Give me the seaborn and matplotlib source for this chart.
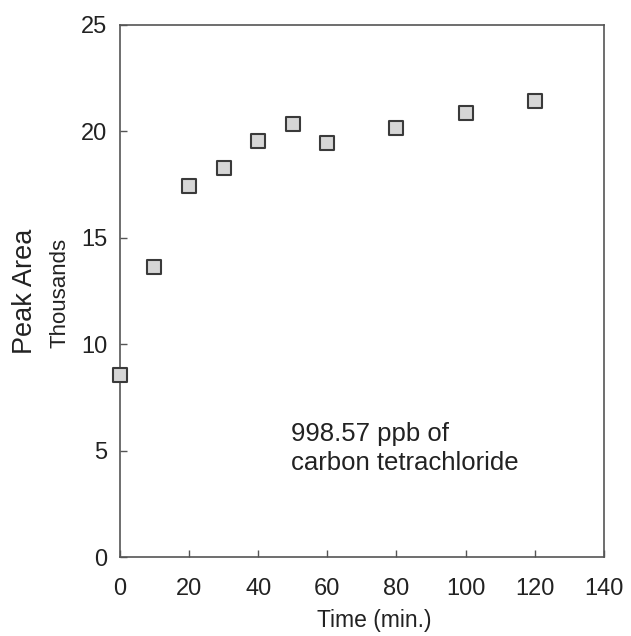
import matplotlib
matplotlib.use("Agg")
import matplotlib.pyplot as plt
import seaborn as sns
import pandas as pd

# Sampling time (min) and measured peak area (thousands)
time_min = [0, 10, 20, 30, 40, 50, 60, 80, 100, 120]
peak_area_k = [8.55, 13.65, 17.45, 18.27, 19.57, 20.33, 19.45, 20.14, 20.86, 21.41]

x_ticks = [0, 20, 40, 60, 80, 100, 120, 140]
y_ticks = [0, 5, 10, 15, 20, 25]

df = pd.DataFrame({"time": time_min, "area": peak_area_k})

sns.set_theme(style="white")
plt.rcParams["font.family"] = ["Liberation Sans", "DejaVu Sans"]
text_color = "#222222"
spine_color = "#555555"

fig = plt.figure(figsize=(6.31, 6.36), dpi=100)
ax = fig.add_axes([0.190, 0.1242, 0.767, 0.8365])

sns.scatterplot(data=df, x="time", y="area", marker="s", s=110,
                color="#d6d6d6", edgecolor="#3a3a3a", linewidth=1.5,
                ax=ax, zorder=3, clip_on=False)

ax.set_xlim(0, 140)
ax.set_ylim(0, 25)
ax.set_xticks(x_ticks)
ax.set_yticks(y_ticks)

for sp in ax.spines.values():
    sp.set_visible(True)
    sp.set_color(spine_color)
    sp.set_linewidth(1.2)

ax.tick_params(axis="both", direction="in", length=5, width=1.0,
               color=spine_color, labelsize=17, labelcolor=text_color,
               bottom=True, left=True, top=False, right=False)
ax.tick_params(axis="x", pad=15)
ax.tick_params(axis="y", pad=9)

ax.set_xlabel("")
ax.set_ylabel("")
fig.text(374 / 631, 1 - 621 / 636, "Time (min.)", fontsize=16.5,
         color=text_color, ha="center", va="center")
fig.text(25 / 631, 1 - 291 / 636, "Peak Area", rotation=90, fontsize=19.5,
         color=text_color, ha="center", va="center")
fig.text(60 / 631, 1 - 293 / 636, "Thousands", rotation=90, fontsize=16,
         color=text_color, ha="center", va="center")

ax.text(49.5, 5.45, "998.57 ppb of", fontsize=18.5, color=text_color,
        va="baseline", ha="left")
ax.text(49.5, 4.08, "carbon tetrachloride", fontsize=18.5, color=text_color,
        va="baseline", ha="left")

fig.savefig("out.png", dpi=100, facecolor="white")
